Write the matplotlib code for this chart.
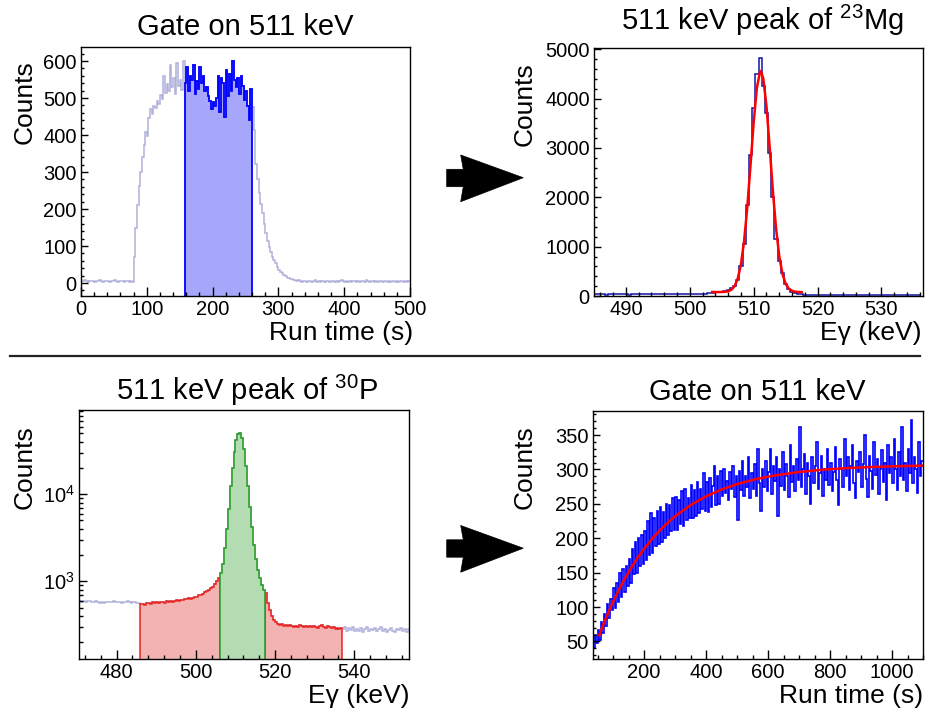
import numpy as np
import matplotlib
matplotlib.use('Agg')
import matplotlib.pyplot as plt
from matplotlib.ticker import MultipleLocator, LogLocator, NullFormatter, LogFormatterSciNotation
from matplotlib.patches import Polygon

plt.rcParams['font.family'] = ['Liberation Sans', 'DejaVu Sans']
plt.rcParams['mathtext.fontset'] = 'custom'
plt.rcParams['mathtext.rm'] = 'Liberation Sans'
plt.rcParams['mathtext.it'] = 'Liberation Sans:italic'
plt.rcParams['mathtext.bf'] = 'Liberation Sans:bold'

# ---------------- data ----------------
# Panel A: time spectrum gated on 511 keV (2.5 s bins from 0 s)
runA_start, runA_width = 0.0, 2.5
runA_counts = [6, 5, 7, 5, 4, 6, 5, 6, 4, 5, 5, 7, 6, 4, 5, 6, 5, 4, 6, 5, 7, 5, 4, 5, 6, 5, 4, 5, 6, 4, 5, 3,
               71, 150, 210, 262, 300, 340, 372, 408, 398, 445, 470, 458, 478, 472, 492, 484, 508, 497, 560, 515,
               538, 520, 588, 530, 555, 510, 595, 532, 548, 522, 600,
               540, 585, 520, 560, 548, 590, 512, 545, 525, 583, 540, 560, 520, 530, 505, 492, 470, 488, 478, 500,
               560, 462, 555, 540, 448, 575, 505, 565, 520, 600, 548, 530, 555, 510, 560, 532, 495, 520, 478, 440,
               525,
               476, 413, 323, 280, 243, 215, 189, 160, 135, 115, 98, 85, 71, 62, 53, 44, 35, 30, 28, 22,
               20, 14, 13, 10, 11, 8, 9, 6, 7,
               5, 4, 6, 5, 3, 5, 6, 4, 5, 7, 4, 5, 3, 6, 5, 4, 5, 6, 4, 5, 5, 3, 6, 4, 5, 7, 5, 4, 6, 3,
               5, 4, 6, 5, 4, 5, 3, 6, 5, 4, 8, 5, 4, 6, 5, 3, 5, 4, 6, 5, 4, 5, 6, 3, 5, 4, 5, 6, 4, 5,
               3, 5, 6, 4, 5, 4, 5]
runA_gate = (157.5, 260.0)

# Panel B: 511 keV peak of 23Mg (0.5 keV bins centred on 485.0 ... 536.0)
mgB_start, mgB_width = 484.75, 0.5
mgB_counts = [38, 32, 40, 35, 30, 42, 36, 33, 39, 35, 41, 30, 37, 34, 40, 36, 32, 38, 43, 35, 39, 33, 41, 37,
              36, 44, 38, 42, 35, 40, 45, 39, 48, 42, 50, 46, 55,
              68, 72, 78, 88, 105, 125, 155, 205, 330, 600, 1050, 1850, 2850, 3800, 4500, 4820, 4250, 3700,
              2900, 2000, 1150, 700, 470, 250, 140, 90, 60, 45, 32,
              25, 20, 15, 22, 18, 14, 20, 16, 23, 17, 12, 19, 21, 15, 18, 24, 16, 13, 20, 17, 22, 15, 19, 14,
              21, 18, 16, 23, 12, 19, 17, 20, 15, 22, 18, 14, 20]
mgB_fit_E = [503.5, 504.0, 504.5, 505.0, 505.5, 506.0, 506.5, 507.0, 507.5, 508.0, 508.5, 509.0, 509.5,
             510.0, 510.5, 511.0, 511.1, 511.5, 512.0, 512.5, 513.0, 513.5, 514.0, 514.5, 515.0, 515.5,
             516.0, 516.5, 517.0, 517.5]
mgB_fit_counts = [82, 80, 80, 81, 85, 96, 126, 198, 351, 639, 1117, 1805, 2654, 3527, 4224, 4550, 4560,
                  4408, 3840, 3011, 2132, 1368, 806, 447, 247, 148, 105, 88, 82, 78]

# Panel C: 511 keV peak of 30P (0.5 keV bins from 470.5 keV)
pC_start, pC_width = 470.5, 0.5
pC_counts = [590, 585, 595, 580, 588, 592, 578, 584, 590, 575, 570, 582, 565, 572, 580, 586, 576, 590, 583,
             578, 585, 570, 575, 580, 588, 572, 566, 574, 580, 570, 565,
             548, 555, 540, 562, 570, 555, 575, 568, 580, 565, 585, 578, 560, 590, 582, 595, 585, 600, 610,
             598, 615, 605, 625, 618, 640, 630, 650, 665, 660, 690, 705, 720, 745, 770, 790, 830, 870, 930,
             1000, 1090,
             1240, 1600, 2400, 4000, 6800, 12500, 20000, 31000, 42000, 49500, 50500, 44000, 33000, 21000,
             12500, 7200, 4200, 2600, 1800, 1350, 1080, 900, 790,
             730, 560, 470, 400, 360, 340, 325, 318, 320, 310, 315, 305, 312, 308, 300, 310, 302, 312, 305,
             298, 306, 300, 310, 295, 304, 300, 292, 306, 312, 296, 288, 310, 300, 292, 298, 286, 294, 282,
             288,
             280, 295, 270, 288, 276, 300, 265, 285, 270, 290, 262, 280, 296, 268, 284, 275, 290, 265, 282,
             298, 270, 286, 260, 278, 292, 272, 264, 285, 275, 290, 268, 280, 262, 284]
pC_side_low = (486.0, 506.0)
pC_peak = (506.0, 517.5)
pC_side_high = (517.5, 537.0)

# Panel D: time spectrum gated on 511 keV (5 s bins from 35 s)
runD_start, runD_width = 35.0, 5.0
runD_counts = [40, 60, 48, 66, 52, 78, 62, 90, 72, 105, 84, 112, 95,
               128, 98, 135, 108, 150, 115, 155, 122, 160, 130,
               170, 135, 185, 148, 195, 150, 200, 160, 205, 162,
               210, 168, 225, 176, 236, 178, 230, 188, 240, 192,
               245, 195, 238, 200, 250, 205, 248, 210, 258, 212,
               260, 212, 255, 220, 268, 218, 272, 226, 258, 230,
               278, 230, 270, 232, 282, 236, 272, 242, 295, 240,
               282, 238, 288, 245, 276, 305, 248, 290, 250, 298,
               262, 300, 266, 283, 255, 296, 272, 305, 260, 290,
               226, 298, 270, 312, 262, 290, 275, 318, 258, 295,
               272, 308, 262, 330, 280, 240, 300, 275, 312, 268,
               296, 330, 265, 305, 283, 318, 232, 300, 276, 325,
               270, 308, 290, 260, 335, 282, 305, 268, 315, 285,
               362, 275, 300, 322, 265, 310, 290, 250, 318, 280,
               305, 340, 272, 295, 320, 262, 300, 285, 330, 278,
               310, 268, 296, 332, 285, 248, 315, 300, 275, 345,
               290, 318, 270, 305, 335, 280, 258, 312, 296, 325,
               275, 308, 350, 286, 260, 320, 298, 272, 340, 292,
               315, 265, 300, 328, 282, 310, 256, 335, 295, 318,
               280, 345, 300, 270, 325, 290, 362, 285, 310, 268,
               330, 295, 372, 280, 318, 300, 266, 340, 290, 312]
runD_fit_t = [55, 70, 85, 100, 120, 140, 160, 180, 200, 230, 260, 300, 350, 400, 450, 500, 560, 620, 700,
              780, 860, 940, 1020, 1100]
runD_fit_counts = [59, 76.5, 92.7, 107.9, 126.4, 143.2, 158.4, 172.2, 184.7, 201.4, 215.8, 232, 248.2,
                   260.9, 270.9, 278.7, 285.9, 291.2, 296.3, 299.8, 302.1, 303.7, 304.8, 305.5]

# ---------------- styling ----------------
W, H = 928, 713
fig = plt.figure(figsize=(W / 100, H / 100), dpi=100)

TICK_FS = 14.5
LABEL_FS = 19
TITLE_FS = 21

GRAY = '#b0b0da'
BLUE = '#0000ff'
BLUE_FILL = '#a6a6fa'
RED = '#e8231f'
RED_FILL = '#f3b3b2'
GREEN = '#259a25'
GREEN_FILL = '#b3dcb3'
NAVY = '#1414a8'


def add_ax(l, t, r, b):
    return fig.add_axes([l / W, 1 - b / H, (r - l) / W, (b - t) / H])


def style(ax):
    for s in ax.spines.values():
        s.set_linewidth(1.0)
    ax.tick_params(which='both', direction='in', top=False, right=False, labelsize=TICK_FS, width=1.0)
    ax.tick_params(axis='x', which='major', length=6.5, pad=3)
    ax.tick_params(axis='x', which='minor', length=3)
    ax.tick_params(axis='y', which='major', length=4.8, pad=3)
    ax.tick_params(axis='y', which='minor', length=2.3)


def edges_of(start, width, n):
    return start + width * np.arange(n + 1)


def sub(edges, vals, lo, hi):
    vals = np.asarray(vals, dtype=float)
    i0 = int(np.argmin(np.abs(edges - lo)))
    i1 = int(np.argmin(np.abs(edges - hi)))
    return edges[i0:i1 + 1], vals[i0:i1]


def ylab(x, y, s):
    fig.text(x / W, 1 - y / H, s, rotation=90, rotation_mode='anchor', ha='right', va='baseline',
             fontsize=LABEL_FS)


def xlab(x, y, s):
    fig.text(x / W, 1 - y / H, s, ha='right', va='baseline', fontsize=LABEL_FS)


def title(x, y, s):
    fig.text(x / W, 1 - y / H, s, ha='center', va='baseline', fontsize=TITLE_FS)


# ---------------- Panel A ----------------
axA = add_ax(81, 47, 410, 296)
style(axA)
eA = edges_of(runA_start, runA_width, len(runA_counts))
yA0 = -35
axA.stairs(runA_counts, eA, color=GRAY, lw=1.1, baseline=None)
ge, gv = sub(eA, runA_counts, *runA_gate)
axA.stairs(gv, ge, fill=True, color=BLUE_FILL, baseline=yA0, lw=0)
axA.stairs(gv, ge, color=BLUE, lw=1.3, baseline=yA0)
axA.set_xlim(0, 500)
axA.set_ylim(yA0, 638)
axA.xaxis.set_major_locator(MultipleLocator(100))
axA.xaxis.set_minor_locator(MultipleLocator(20))
axA.yaxis.set_major_locator(MultipleLocator(100))
axA.yaxis.set_minor_locator(MultipleLocator(20))
title(245, 35, 'Gate on 511 keV')
xlab(413, 340, 'Run time (s)')
ylab(31.5, 60, 'Counts')

# ---------------- Panel B ----------------
axB = add_ax(594, 48, 923, 296)
style(axB)
eB = edges_of(mgB_start, mgB_width, len(mgB_counts))
axB.stairs(mgB_counts, eB, color=NAVY, lw=1.1, baseline=None)
axB.plot(mgB_fit_E, mgB_fit_counts, color='#ff0000', lw=1.8)
axB.set_xlim(485, 536.5)
axB.set_ylim(0, 5025)
axB.xaxis.set_major_locator(MultipleLocator(10))
axB.xaxis.set_minor_locator(MultipleLocator(2))
axB.yaxis.set_major_locator(MultipleLocator(1000))
axB.yaxis.set_minor_locator(MultipleLocator(200))
title(762, 30.5, r'511 keV peak of $^{23}$Mg')
xlab(922, 340, 'E\u03b3 (keV)')
ylab(531.5, 62, 'Counts')

# ---------------- Panel C ----------------
axC = add_ax(79, 410, 409, 659)
style(axC)
eC = edges_of(pC_start, pC_width, len(pC_counts))
yC0 = 128
axC.set_yscale('log')
axC.stairs(pC_counts, eC, color=GRAY, lw=1.1, baseline=None)
for rng, fc, lc in [(pC_side_low, RED_FILL, RED), (pC_side_high, RED_FILL, RED), (pC_peak, GREEN_FILL, GREEN)]:
    se, sv = sub(eC, pC_counts, *rng)
    axC.stairs(sv, se, fill=True, color=fc, baseline=yC0, lw=0)
    axC.stairs(sv, se, color=lc, lw=1.1, baseline=yC0)
axC.set_xlim(470.5, 553.8)
axC.set_ylim(yC0, 93000)
axC.xaxis.set_major_locator(MultipleLocator(20))
axC.xaxis.set_minor_locator(MultipleLocator(4))
axC.yaxis.set_major_locator(LogLocator(base=10, numticks=10))
axC.yaxis.set_minor_locator(LogLocator(base=10, subs=np.arange(2, 10), numticks=20))
axC.yaxis.set_minor_formatter(NullFormatter())
axC.yaxis.set_major_formatter(LogFormatterSciNotation())
axC.tick_params(axis='y', which='major', length=6)
axC.tick_params(axis='y', which='minor', length=3.2)
title(247, 400, r'511 keV peak of $^{30}$P')
xlab(410, 703, 'E\u03b3 (keV)')
ylab(31.5, 425, 'Counts')

# ---------------- Panel D ----------------
axD = add_ax(593, 411, 923, 659)
style(axD)
eD = edges_of(runD_start, runD_width, len(runD_counts))
axD.stairs(runD_counts, eD, color=BLUE, lw=1.2, baseline=None)
axD.plot(runD_fit_t, runD_fit_counts, color='#ff0000', lw=1.8)
axD.set_xlim(35, 1100)
axD.set_ylim(24.4, 385)
axD.xaxis.set_major_locator(MultipleLocator(200))
axD.xaxis.set_minor_locator(MultipleLocator(50))
axD.yaxis.set_major_locator(MultipleLocator(50))
axD.yaxis.set_minor_locator(MultipleLocator(10))
title(757, 400, 'Gate on 511 keV')
xlab(923, 703, 'Run time (s)')
ylab(531.5, 425, 'Counts')

# ---------------- overlay: arrows and separator ----------------
ov = fig.add_axes([0, 0, 1, 1], zorder=-5)
ov.set_xlim(0, W)
ov.set_ylim(H, 0)
ov.axis('off')
ov.patch.set_visible(False)
arrow_shape = [(446.7, 169.3), (463.3, 169.3), (460.7, 155.0), (523.3, 177.7), (460.7, 201.7),
               (463.3, 186.7), (446.7, 186.7)]
for dy in (0, 370.5):
    ov.add_patch(Polygon([(x, y + dy) for x, y in arrow_shape], closed=True, fc='black', ec='black', lw=0.5))
ov.plot([10, 920], [356, 356], color='#222222', lw=1.6)

fig.savefig('out.png', dpi=100)
